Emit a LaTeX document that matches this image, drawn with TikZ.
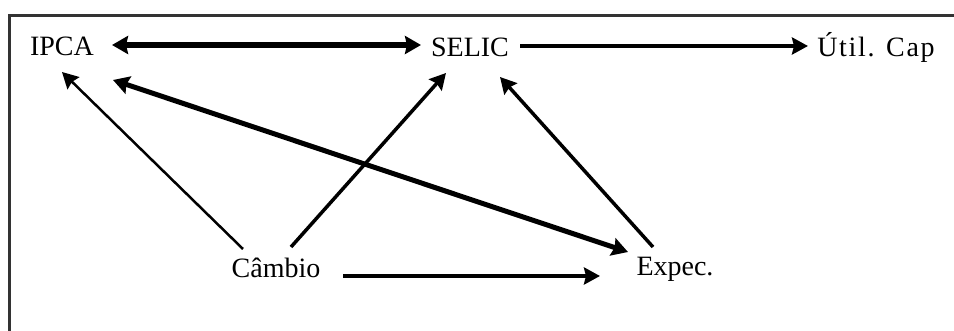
\documentclass[tikz,border=0pt]{standalone}
\usepackage{fontspec}
\setmainfont{Liberation Serif}
\newfontfamily\spacedfont[LetterSpace=6]{Liberation Serif}
\usetikzlibrary{arrows.meta,calc}
\tikzset{
  lbl/.style={inner sep=0pt, font=\fontsize{28}{32}\selectfont},
  tip/.style={-{Stealth[inset=2pt,length=16pt,width=17pt]}},
  dtip/.style={{Stealth[inset=2pt,length=16pt,width=18pt]}-{Stealth[inset=2pt,length=16pt,width=18pt]}},
  frame/.style={draw=black!80, line width=2.5pt}
}
\begin{document}
\begin{tikzpicture}[x=1pt,y=-1pt]
\useasboundingbox (0,0) rectangle (954,331);
\draw[frame] (9.5,331) -- (9.5,15.5) -- (954,15.5);
\node[lbl] (ipca) at (62,46) {IPCA};
\node[lbl] (selic) at (470,47) {SELIC};
\node[lbl, font=\spacedfont\fontsize{28}{32}\selectfont] (util) at (876,47) {Útil. Cap};
\node[lbl] (cambio) at (276,268) {Câmbio};
\node[lbl] (expec) at (675,269) {Expec.};
\draw[dtip, line width=5.5pt] ($(ipca.center)+(50,-1)$) -- ($(selic.center)+(-49,-2)$);
\draw[tip, line width=3.5pt] ($(selic.center)+(50,-1)$) -- ($(util.center)+(-68,-1)$);
\draw[tip, line width=2.5pt] ($(cambio.center)+(-33,-19)$) -- ($(ipca.center)+(0,26)$);
\draw[dtip, line width=5pt] ($(ipca.center)+(51,34)$) -- ($(expec.center)+(-47,-17)$);
\draw[tip, line width=3.5pt] ($(cambio.center)+(15,-21)$) -- ($(selic.center)+(-24,26)$);
\draw[tip, line width=3.5pt] ($(expec.center)+(-22,-22)$) -- ($(selic.center)+(30,30)$);
\draw[tip, line width=4.5pt] ($(cambio.center)+(67,8)$) -- ($(expec.center)+(-75,7)$);
\end{tikzpicture}
\end{document}
